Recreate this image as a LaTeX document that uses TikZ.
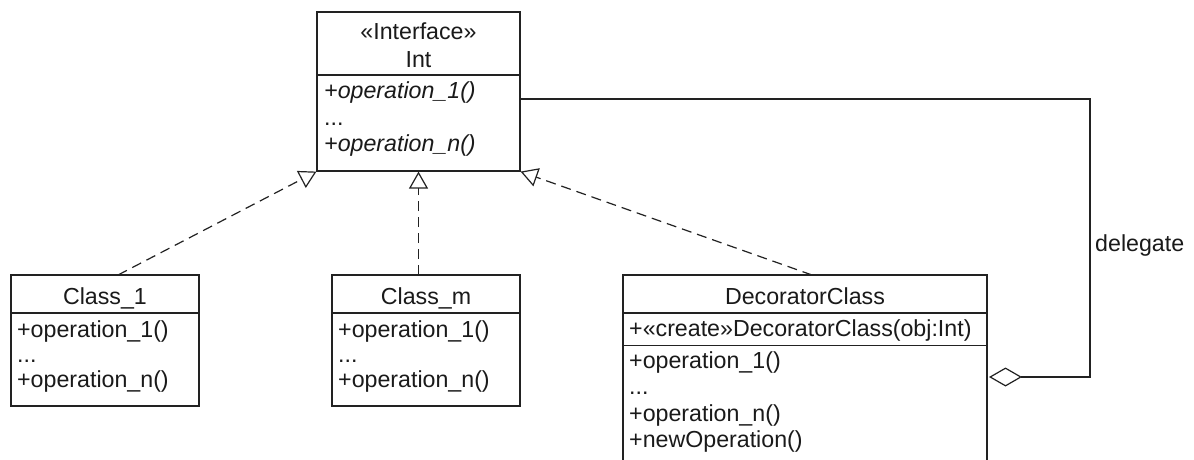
\documentclass[tikz,border=0pt]{standalone}
\usepackage{fontspec}
\setmainfont{Liberation Sans}
\usetikzlibrary{arrows.meta}
\definecolor{ln}{HTML}{222222}
\definecolor{tx}{HTML}{1A1A1A}
\begin{document}
\begin{tikzpicture}[x=1pt,y=-1pt,
  box/.style={draw=ln,line width=1.2pt,rectangle,inner sep=0pt,fill=white},
  lbl/.style={inner sep=0pt,text=tx,font=\fontsize{23.2}{26}\selectfont},
  mem/.style={lbl,anchor=base west},
  ttl/.style={lbl,anchor=base},
  sep/.style={draw=ln,line width=1.2pt},
  real/.style={draw=ln,line width=1.2pt,dash pattern=on 10pt off 6pt,
    -{Triangle[open,length=17pt,width=19pt,line width=1.2pt]}},
  agg/.style={draw=ln,line width=1.2pt,
    {Diamond[open,length=33pt,width=19pt,line width=1.2pt]}-}]
\clip (0,0) rectangle (1194,460);
\fill[white] (0,0) rectangle (1194,460);

% Interface Int
\node[box,minimum width=203pt,minimum height=159pt] (int) at (418.5,91.5) {};
\draw[sep] (317,75) -- (520,75);
\node[ttl] (intst) at (418.5,40) {«Interface»};
\node[ttl] (intnm) at (418.5,67) {Int};
\node[mem] (into1) at (324,99) {\itshape +operation\_1()};
\node[mem] (intdots) at (324,125) {...};
\node[mem] (inton) at (324,151) {\itshape +operation\_n()};

% Class_1
\node[box,minimum width=188pt,minimum height=131pt] (c1) at (105,340.5) {};
\draw[sep] (11,313) -- (199,313);
\node[ttl] (c1nm) at (105,304) {Class\_1};
\node[mem] (c1o1) at (17,337) {+operation\_1()};
\node[mem] (c1d) at (17,362) {...};
\node[mem] (c1on) at (17,387.5) {+operation\_n()};

% Class_m
\node[box,minimum width=188pt,minimum height=131pt] (cm) at (426,340.5) {};
\draw[sep] (332,313) -- (520,313);
\node[ttl] (cmnm) at (426,304) {Class\_m};
\node[mem] (cmo1) at (338,337) {+operation\_1()};
\node[mem] (cmd) at (338,362) {...};
\node[mem] (cmon) at (338,387.5) {+operation\_n()};

% DecoratorClass
\node[box,minimum width=364pt,minimum height=205pt] (dec) at (805,377.5) {};
\draw[sep] (623,313) -- (987,313);
\draw[sep] (623,345.5) -- (987,345.5);
\node[ttl] (decnm) at (805,304) {DecoratorClass};
\node[mem] (decc) at (629,336) {+«create»DecoratorClass(obj:Int)};
\node[mem] (deco1) at (629,368) {+operation\_1()};
\node[mem] (decd) at (629,394) {...};
\node[mem] (decon) at (629,421) {+operation\_n()};
\node[mem] (decnew) at (629,447) {+newOperation()};

% connector end points
\coordinate (c1t) at (118,275);
\coordinate (cmt) at (418.5,275);
\coordinate (dect) at (812,275);
\coordinate (dgt) at (989,377);
\coordinate (intr) at (520,99);

% realizations
\draw[real] (c1t) -- (int.south west);
\draw[real] (cmt) -- (int.south);
\draw[real] (dect) -- (int.south east);

% delegate aggregation
\draw[agg] (dgt) -- ++(101,0) |- (intr);
\node[lbl,anchor=base west] (dlg) at (1095,251) {delegate};
\end{tikzpicture}
\end{document}
